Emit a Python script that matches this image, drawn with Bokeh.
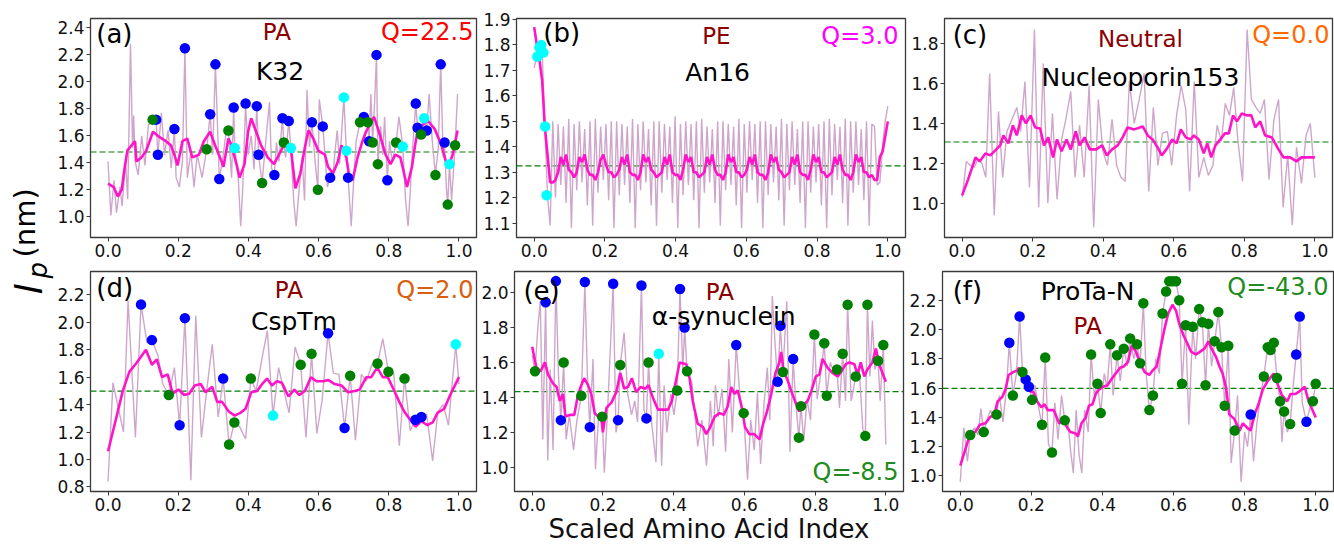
import math
from bokeh.plotting import figure
from bokeh.layouts import row, column
from bokeh.models import Range1d, FixedTicker, NumeralTickFormatter, Span
from bokeh.core.properties import value
from bokeh.embed import file_html
from bokeh.resources import INLINE

FONT = "DejaVu Sans"
RAW_COLOR = "#cfa6cb"
SMOOTH_COLOR = "#ff14c8"
MEAN_COLOR = "#008000"
BLUE, GREEN, CYAN = "#0000ff", "#008000", "#00ffff"

X_TICKS = [0.0, 0.2, 0.4, 0.6, 0.8, 1.0]

# ---------------- (a) K32 ----------------
A_YTICKS = [1.0, 1.2, 1.4, 1.6, 1.8, 2.0, 2.2, 2.4]
A_MEAN = 1.48
A_RAW = [(0.000,1.41),(0.008,1.01),(0.017,1.27),(0.024,1.03),(0.034,1.22),(0.040,1.08),(0.050,1.41),(0.056,1.13),(0.064,2.28),(0.070,1.51),(0.073,1.75),(0.077,1.41),(0.086,1.31),(0.096,1.60),(0.105,1.38),(0.115,1.68),(0.127,1.72),(0.137,1.72),(0.142,1.46),(0.152,1.77),(0.161,1.46),(0.171,1.64),(0.180,1.36),(0.189,1.65),(0.194,1.29),(0.203,1.22),(0.212,1.41),(0.219,2.25),(0.226,1.29),(0.236,1.48),(0.245,1.22),(0.254,1.46),(0.268,1.29),(0.281,1.50),(0.291,1.76),(0.298,1.46),(0.306,2.13),(0.317,1.28),(0.326,1.41),(0.336,1.62),(0.343,1.64),(0.352,1.29),(0.358,1.81),(0.361,1.51),(0.371,1.29),(0.378,0.93),(0.384,1.22),(0.392,1.84),(0.399,1.46),(0.408,1.60),(0.416,1.35),(0.424,1.82),(0.429,1.46),(0.439,1.25),(0.446,1.46),(0.460,1.85),(0.466,1.36),(0.474,1.31),(0.480,1.55),(0.487,1.41),(0.497,1.73),(0.501,1.55),(0.506,1.44),(0.515,1.71),(0.521,1.51),(0.529,1.12),(0.536,0.93),(0.544,1.19),(0.553,1.44),(0.560,1.12),(0.567,1.94),(0.574,1.52),(0.581,1.70),(0.590,1.41),(0.598,1.20),(0.602,1.87),(0.612,1.67),(0.618,1.46),(0.625,1.22),(0.633,1.29),(0.640,1.27),(0.646,1.46),(0.653,1.64),(0.660,1.39),(0.672,1.885),(0.679,1.49),(0.684,1.29),(0.693,0.93),(0.700,1.27),(0.707,1.56),(0.718,1.70),(0.729,1.74),(0.740,1.70),(0.744,1.56),(0.749,1.91),(0.754,1.55),(0.760,1.87),(0.765,2.20),(0.769,1.39),(0.777,1.67),(0.783,1.46),(0.788,1.74),(0.796,1.27),(0.802,1.56),(0.810,1.41),(0.821,1.55),(0.829,1.74),(0.840,1.52),(0.848,1.12),(0.855,0.93),(0.862,1.22),(0.868,1.51),(0.877,1.84),(0.882,1.66),(0.892,1.61),(0.901,1.73),(0.908,1.64),(0.915,1.91),(0.924,1.56),(0.933,1.31),(0.941,1.51),(0.948,2.13),(0.955,1.44),(0.959,1.55),(0.964,1.22),(0.968,1.09),(0.973,1.39),(0.979,1.12),(0.989,1.53),(0.996,1.91)]
A_SMOOTH = [(0.000,1.245),(0.016,1.22),(0.028,1.15),(0.039,1.20),(0.046,1.34),(0.055,1.49),(0.067,1.53),(0.077,1.56),(0.081,1.41),(0.095,1.44),(0.109,1.49),(0.128,1.63),(0.147,1.59),(0.165,1.56),(0.179,1.53),(0.189,1.46),(0.198,1.38),(0.212,1.56),(0.226,1.58),(0.240,1.44),(0.259,1.46),(0.273,1.56),(0.291,1.63),(0.305,1.53),(0.319,1.44),(0.329,1.37),(0.343,1.58),(0.352,1.53),(0.366,1.39),(0.375,1.29),(0.389,1.39),(0.399,1.63),(0.408,1.73),(0.422,1.63),(0.436,1.53),(0.455,1.44),(0.473,1.39),(0.487,1.46),(0.501,1.53),(0.520,1.53),(0.534,1.21),(0.548,1.32),(0.562,1.53),(0.571,1.64),(0.585,1.58),(0.599,1.49),(0.618,1.46),(0.627,1.37),(0.641,1.32),(0.655,1.41),(0.665,1.53),(0.679,1.44),(0.688,1.29),(0.697,1.27),(0.711,1.44),(0.725,1.56),(0.735,1.63),(0.749,1.70),(0.758,1.74),(0.772,1.63),(0.791,1.46),(0.805,1.39),(0.819,1.46),(0.833,1.44),(0.842,1.34),(0.852,1.22),(0.866,1.37),(0.875,1.53),(0.884,1.66),(0.912,1.71),(0.931,1.65),(0.950,1.53),(0.968,1.36),(0.982,1.46),(0.996,1.64)]
A_BLUE = [(0.137,1.72),(0.142,1.46),(0.189,1.65),(0.219,2.25),(0.291,1.76),(0.306,2.13),(0.317,1.28),(0.358,1.81),(0.392,1.84),(0.424,1.82),(0.429,1.46),(0.474,1.31),(0.497,1.73),(0.515,1.71),(0.581,1.70),(0.612,1.67),(0.633,1.29),(0.684,1.29),(0.729,1.74),(0.744,1.56),(0.765,2.20),(0.796,1.27),(0.877,1.84),(0.882,1.66),(0.908,1.64),(0.948,2.13),(0.959,1.55)]
A_GREEN = [(0.127,1.72),(0.281,1.50),(0.343,1.64),(0.439,1.25),(0.501,1.55),(0.598,1.20),(0.718,1.70),(0.740,1.70),(0.754,1.55),(0.769,1.39),(0.821,1.55),(0.892,1.61),(0.933,1.31),(0.968,1.09),(0.989,1.53)]
A_CYAN = [(0.361,1.51),(0.521,1.51),(0.672,1.885),(0.679,1.49),(0.840,1.52),(0.901,1.73),(0.973,1.39)]

# ---------------- (b) An16 ----------------
B_YTICKS = [1.1, 1.2, 1.3, 1.4, 1.5, 1.6, 1.7, 1.8, 1.9]
B_MEAN = 1.325
B_RAW_Y = [1.71, 1.76, 1.79, 1.78, 1.48, 1.21,
           1.09, 1.50, 1.20, 1.49, 1.25, 1.48, 1.18, 1.51,
           1.08, 1.49, 1.23, 1.50, 1.26, 1.47, 1.17, 1.50,
           1.09, 1.51, 1.22, 1.48, 1.27, 1.49, 1.19, 1.50,
           1.08, 1.50, 1.21, 1.49, 1.25, 1.48, 1.18, 1.51,
           1.08, 1.49, 1.23, 1.50, 1.26, 1.47, 1.17, 1.50,
           1.09, 1.50, 1.22, 1.49, 1.27, 1.48, 1.18, 1.52,
           1.08, 1.49, 1.21, 1.50, 1.25, 1.49, 1.19, 1.50,
           1.08, 1.51, 1.22, 1.48, 1.26, 1.47, 1.18, 1.50,
           1.09, 1.50, 1.23, 1.49, 1.25, 1.48, 1.17, 1.51,
           1.08, 1.49, 1.22, 1.50, 1.27, 1.49, 1.18, 1.50,
           1.08, 1.50, 1.21, 1.49, 1.26, 1.48, 1.19, 1.51,
           1.09, 1.49, 1.23, 1.50, 1.25, 1.47, 1.18, 1.50,
           1.08, 1.50, 1.22, 1.48, 1.26, 1.49, 1.17, 1.50,
           1.08, 1.51, 1.21, 1.49, 1.27, 1.48, 1.18, 1.51,
           1.09, 1.50, 1.22, 1.50, 1.25, 1.47, 1.19, 1.50,
           1.09, 1.49, 1.48, 1.25, 1.26, 1.40, 1.50, 1.56]
B_SMOOTH_Y = [1.87, 1.80, 1.74, 1.66, 1.48, 1.37,
              1.26, 1.26, 1.27, 1.30, 1.36, 1.33, 1.37, 1.31,
              1.30, 1.28, 1.30, 1.36, 1.34, 1.37, 1.31, 1.29,
              1.29, 1.27, 1.30, 1.35, 1.37, 1.33, 1.30, 1.30,
              1.28, 1.29, 1.31, 1.36, 1.33, 1.37, 1.30, 1.29,
              1.29, 1.27, 1.30, 1.37, 1.34, 1.36, 1.31, 1.30,
              1.28, 1.29, 1.30, 1.36, 1.33, 1.37, 1.30, 1.29,
              1.29, 1.27, 1.31, 1.37, 1.34, 1.36, 1.30, 1.30,
              1.28, 1.29, 1.30, 1.36, 1.33, 1.37, 1.31, 1.29,
              1.29, 1.27, 1.30, 1.37, 1.34, 1.36, 1.30, 1.30,
              1.28, 1.29, 1.31, 1.36, 1.33, 1.37, 1.30, 1.29,
              1.29, 1.27, 1.30, 1.37, 1.34, 1.36, 1.31, 1.30,
              1.28, 1.29, 1.30, 1.36, 1.33, 1.37, 1.30, 1.29,
              1.29, 1.27, 1.31, 1.37, 1.34, 1.36, 1.30, 1.30,
              1.28, 1.29, 1.30, 1.36, 1.33, 1.37, 1.31, 1.29,
              1.29, 1.27, 1.30, 1.37, 1.34, 1.36, 1.30, 1.30,
              1.28, 1.29, 1.27, 1.27, 1.36, 1.38, 1.44, 1.50]
B_IDX = [i / (len(B_RAW_Y) - 1) for i in range(len(B_RAW_Y))]
B_CYAN = [(0.009,1.755),(0.015,1.79),(0.020,1.80),(0.026,1.77),(0.031,1.48),(0.035,1.21)]

# ---------------- (c) Nucleoporin153 ----------------
C_YTICKS = [1.0, 1.2, 1.4, 1.6, 1.8]
C_MEAN = 1.307
C_RAW = [(0.000,1.03),(0.012,1.21),(0.023,1.19),(0.035,1.18),(0.044,1.22),(0.056,1.20),(0.067,1.13),(0.078,1.65),(0.091,0.94),(0.103,1.46),(0.115,1.13),(0.127,1.36),(0.141,1.42),(0.155,1.48),(0.166,1.36),(0.178,1.61),(0.191,1.08),(0.205,1.87),(0.217,0.98),(0.230,1.70),(0.243,1.00),(0.256,1.45),(0.269,1.02),(0.282,1.32),(0.294,1.42),(0.308,1.56),(0.320,1.13),(0.333,1.39),(0.346,1.13),(0.360,1.59),(0.373,0.88),(0.386,1.52),(0.399,1.26),(0.412,1.19),(0.425,1.42),(0.438,1.19),(0.450,1.13),(0.462,1.11),(0.474,1.61),(0.488,1.40),(0.502,1.52),(0.516,1.65),(0.529,1.06),(0.542,1.48),(0.555,1.19),(0.568,1.35),(0.582,1.36),(0.594,1.19),(0.608,1.44),(0.621,1.59),(0.634,1.47),(0.645,1.06),(0.658,1.61),(0.671,1.13),(0.685,1.23),(0.698,1.14),(0.711,1.19),(0.723,1.39),(0.735,1.31),(0.746,1.50),(0.758,1.44),(0.770,1.58),(0.782,1.31),(0.795,1.11),(0.808,1.87),(0.820,1.52),(0.833,1.48),(0.845,1.45),(0.857,1.52),(0.870,1.12),(0.884,1.42),(0.897,1.52),(0.910,0.98),(0.923,1.24),(0.936,0.89),(0.948,1.28),(0.962,1.10),(0.975,1.34),(0.987,1.40),(1.000,1.13)]
C_SMOOTH = [(0.000,1.04),(0.017,1.12),(0.038,1.23),(0.050,1.21),(0.066,1.25),(0.080,1.24),(0.097,1.27),(0.108,1.29),(0.117,1.34),(0.131,1.30),(0.144,1.39),(0.155,1.34),(0.169,1.44),(0.181,1.40),(0.194,1.44),(0.207,1.38),(0.221,1.375),(0.232,1.29),(0.244,1.33),(0.258,1.23),(0.269,1.32),(0.282,1.26),(0.296,1.32),(0.308,1.27),(0.322,1.36),(0.333,1.29),(0.347,1.33),(0.362,1.27),(0.380,1.27),(0.397,1.29),(0.410,1.24),(0.425,1.27),(0.441,1.29),(0.455,1.33),(0.469,1.38),(0.488,1.37),(0.512,1.385),(0.526,1.34),(0.540,1.32),(0.554,1.28),(0.566,1.24),(0.579,1.27),(0.596,1.32),(0.608,1.30),(0.620,1.37),(0.634,1.33),(0.648,1.32),(0.657,1.34),(0.671,1.32),(0.685,1.25),(0.695,1.30),(0.706,1.23),(0.718,1.29),(0.732,1.32),(0.745,1.35),(0.756,1.35),(0.768,1.44),(0.779,1.41),(0.793,1.45),(0.808,1.44),(0.820,1.44),(0.831,1.38),(0.845,1.41),(0.859,1.34),(0.878,1.33),(0.897,1.27),(0.911,1.23),(0.930,1.23),(0.948,1.21),(0.962,1.23),(1.000,1.23)]

# ---------------- (d) CspTm ----------------
D_YTICKS = [0.8, 1.0, 1.2, 1.4, 1.6, 1.8, 2.0, 2.2]
D_MEAN = 1.498
D_RAW = [(0.000,0.84),(0.014,1.56),(0.028,1.39),(0.044,1.20),(0.057,2.16),(0.078,1.16),(0.094,2.13),(0.111,1.85),(0.125,1.87),(0.142,1.76),(0.156,1.55),(0.173,1.47),(0.189,1.67),(0.204,1.25),(0.219,2.03),(0.236,0.85),(0.250,2.05),(0.266,1.16),(0.281,1.50),(0.297,1.84),(0.314,1.31),(0.328,1.59),(0.345,1.11),(0.360,1.27),(0.375,1.24),(0.392,1.15),(0.407,1.59),(0.422,1.50),(0.439,1.74),(0.454,1.94),(0.470,1.32),(0.486,1.67),(0.501,1.50),(0.516,1.34),(0.533,1.82),(0.549,1.69),(0.564,1.16),(0.580,1.77),(0.595,1.19),(0.610,1.43),(0.627,1.92),(0.642,1.63),(0.658,1.62),(0.674,1.23),(0.690,1.61),(0.705,1.14),(0.722,1.62),(0.736,1.57),(0.752,1.69),(0.768,1.70),(0.783,1.88),(0.799,1.64),(0.814,1.63),(0.830,1.10),(0.845,1.59),(0.861,1.21),(0.876,1.29),(0.893,1.31),(0.908,1.33),(0.925,0.99),(0.940,1.35),(0.955,1.40),(0.970,1.25),(0.991,1.84),(1.000,1.55)]
D_SMOOTH = [(0.000,1.06),(0.024,1.31),(0.042,1.50),(0.061,1.64),(0.080,1.70),(0.108,1.80),(0.125,1.69),(0.139,1.73),(0.154,1.60),(0.170,1.62),(0.184,1.48),(0.201,1.51),(0.217,1.47),(0.231,1.48),(0.247,1.54),(0.264,1.55),(0.278,1.49),(0.297,1.53),(0.311,1.42),(0.325,1.42),(0.344,1.35),(0.361,1.32),(0.377,1.34),(0.392,1.37),(0.408,1.49),(0.425,1.50),(0.439,1.55),(0.453,1.59),(0.467,1.54),(0.481,1.57),(0.495,1.56),(0.514,1.46),(0.531,1.51),(0.545,1.47),(0.561,1.50),(0.578,1.60),(0.594,1.57),(0.613,1.57),(0.627,1.58),(0.646,1.55),(0.665,1.54),(0.684,1.49),(0.703,1.50),(0.717,1.51),(0.736,1.60),(0.750,1.60),(0.767,1.67),(0.783,1.60),(0.797,1.60),(0.814,1.51),(0.830,1.42),(0.844,1.35),(0.861,1.29),(0.877,1.24),(0.893,1.28),(0.910,1.25),(0.925,1.27),(0.939,1.34),(0.958,1.37),(0.975,1.47),(1.000,1.60)]
D_BLUE = [(0.094,2.13),(0.125,1.87),(0.204,1.25),(0.219,2.03),(0.328,1.59),(0.627,1.92),(0.674,1.23),(0.876,1.29),(0.893,1.31)]
D_GREEN = [(0.173,1.47),(0.345,1.11),(0.360,1.27),(0.407,1.59),(0.549,1.69),(0.580,1.77),(0.690,1.61),(0.768,1.70),(0.799,1.64),(0.845,1.59)]
D_CYAN = [(0.470,1.32),(0.991,1.84)]

# ---------------- (e) alpha-synuclein ----------------
E_YTICKS = [1.0, 1.2, 1.4, 1.6, 1.8, 2.0]
E_MEAN = 1.433
E_RAW = [(0.000,1.64),(0.008,1.55),(0.016,1.80),(0.023,1.95),(0.030,1.16),(0.038,1.944),(0.044,1.04),(0.051,1.56),(0.059,1.10),(0.067,2.065),(0.074,1.55),(0.081,1.27),(0.089,1.60),(0.096,1.16),(0.105,1.30),(0.117,1.10),(0.126,1.26),(0.139,1.41),(0.149,2.06),(0.156,1.53),(0.163,1.23),(0.172,1.62),(0.179,0.99),(0.188,1.30),(0.198,1.29),(0.204,0.97),(0.214,1.36),(0.229,2.05),(0.237,1.20),(0.243,1.27),(0.249,1.585),(0.260,1.77),(0.270,1.42),(0.281,1.30),(0.290,1.38),(0.298,1.26),(0.309,2.04),(0.316,1.33),(0.323,1.28),(0.329,1.60),(0.338,1.25),(0.350,1.03),(0.358,1.65),(0.366,1.01),(0.373,1.47),(0.381,1.20),(0.392,1.42),(0.401,1.30),(0.410,1.44),(0.418,2.02),(0.426,1.55),(0.431,1.80),(0.438,1.55),(0.452,1.48),(0.468,1.12),(0.480,1.27),(0.493,1.01),(0.504,1.38),(0.512,1.12),(0.518,1.47),(0.526,1.29),(0.537,1.45),(0.547,1.09),(0.556,1.62),(0.566,1.20),(0.577,1.70),(0.589,1.36),(0.598,1.31),(0.609,0.93),(0.618,1.27),(0.628,1.10),(0.637,1.43),(0.646,1.02),(0.655,1.35),(0.665,1.57),(0.672,1.27),(0.679,1.98),(0.688,1.67),(0.694,1.49),(0.702,1.81),(0.709,1.545),(0.720,1.95),(0.729,1.09),(0.738,1.62),(0.745,1.38),(0.754,1.17),(0.760,1.35),(0.768,1.15),(0.777,1.39),(0.787,1.27),(0.798,1.76),(0.806,1.39),(0.818,1.57),(0.826,1.71),(0.833,1.41),(0.843,1.60),(0.854,1.54),(0.862,1.56),(0.869,1.34),(0.878,1.65),(0.886,1.38),(0.892,1.93),(0.902,1.38),(0.915,1.52),(0.925,1.55),(0.935,1.22),(0.942,1.18),(0.948,1.93),(0.955,1.52),(0.962,1.84),(0.969,1.56),(0.978,1.61),(0.984,1.38),(0.993,1.70),(1.000,1.13)]
E_SMOOTH = [(0.000,1.69),(0.012,1.57),(0.024,1.55),(0.036,1.60),(0.045,1.53),(0.059,1.48),(0.069,1.46),(0.078,1.38),(0.087,1.42),(0.094,1.29),(0.106,1.30),(0.119,1.30),(0.128,1.40),(0.137,1.46),(0.147,1.51),(0.158,1.47),(0.167,1.42),(0.177,1.31),(0.186,1.29),(0.196,1.27),(0.200,1.20),(0.210,1.34),(0.224,1.37),(0.238,1.43),(0.249,1.54),(0.260,1.45),(0.271,1.46),(0.282,1.51),(0.294,1.43),(0.307,1.46),(0.320,1.45),(0.329,1.47),(0.341,1.40),(0.356,1.33),(0.370,1.33),(0.384,1.33),(0.395,1.38),(0.407,1.50),(0.417,1.60),(0.436,1.59),(0.445,1.51),(0.454,1.38),(0.468,1.25),(0.483,1.23),(0.492,1.19),(0.501,1.22),(0.516,1.29),(0.530,1.31),(0.542,1.30),(0.553,1.35),(0.563,1.46),(0.572,1.42),(0.581,1.44),(0.591,1.36),(0.602,1.23),(0.614,1.19),(0.628,1.19),(0.643,1.16),(0.652,1.24),(0.664,1.32),(0.675,1.41),(0.688,1.54),(0.699,1.60),(0.704,1.66),(0.711,1.55),(0.722,1.50),(0.732,1.44),(0.743,1.38),(0.755,1.32),(0.768,1.36),(0.779,1.38),(0.790,1.44),(0.802,1.52),(0.812,1.53),(0.821,1.62),(0.835,1.57),(0.849,1.54),(0.864,1.52),(0.878,1.56),(0.887,1.59),(0.897,1.60),(0.911,1.59),(0.920,1.53),(0.929,1.60),(0.939,1.52),(0.948,1.56),(0.962,1.60),(0.972,1.68),(0.981,1.59),(1.000,1.49)]
E_BLUE = [(0.038,1.944),(0.067,2.065),(0.081,1.27),(0.149,2.06),(0.163,1.23),(0.229,2.05),(0.243,1.27),(0.309,2.04),(0.323,1.28),(0.418,2.02),(0.431,1.80),(0.577,1.70),(0.694,1.49),(0.702,1.81),(0.738,1.62)]
E_GREEN = [(0.008,1.55),(0.089,1.60),(0.139,1.41),(0.198,1.29),(0.249,1.585),(0.329,1.60),(0.410,1.44),(0.438,1.55),(0.598,1.31),(0.709,1.545),(0.754,1.17),(0.760,1.35),(0.798,1.76),(0.826,1.71),(0.833,1.41),(0.862,1.56),(0.878,1.65),(0.892,1.93),(0.915,1.52),(0.942,1.18),(0.948,1.93),(0.978,1.61),(0.993,1.70)]
E_CYAN = [(0.358,1.65)]

# ---------------- (f) ProTa-N ----------------
F_YTICKS = [1.0, 1.2, 1.4, 1.6, 1.8, 2.0, 2.2]
F_MEAN = 1.599
F_RAW = [(0.000,0.96),(0.010,1.33),(0.020,1.10),(0.028,1.28),(0.040,1.33),(0.050,1.28),(0.058,1.46),(0.066,1.30),(0.075,1.38),(0.085,1.45),(0.094,1.40),(0.102,1.42),(0.110,1.55),(0.120,1.37),(0.130,1.60),(0.138,1.91),(0.148,1.55),(0.158,1.70),(0.167,2.09),(0.175,1.71),(0.184,1.66),(0.193,1.61),(0.202,1.52),(0.210,1.62),(0.220,1.47),(0.230,1.35),(0.239,1.81),(0.248,1.22),(0.258,1.16),(0.266,1.50),(0.275,1.25),(0.285,1.55),(0.294,1.38),(0.302,1.40),(0.310,1.18),(0.318,1.02),(0.326,1.45),(0.334,1.15),(0.342,1.02),(0.350,1.45),(0.360,1.30),(0.368,1.83),(0.377,1.55),(0.386,1.63),(0.395,1.43),(0.405,1.70),(0.413,1.60),(0.422,1.90),(0.430,1.55),(0.441,1.825),(0.450,1.65),(0.460,1.87),(0.470,1.75),(0.478,1.94),(0.488,1.80),(0.497,1.90),(0.506,1.77),(0.515,2.18),(0.523,1.70),(0.532,1.45),(0.542,1.55),(0.550,1.80),(0.560,1.70),(0.569,2.11),(0.579,2.26),(0.588,2.33),(0.597,2.33),(0.607,2.33),(0.616,2.20),(0.624,1.63),(0.634,2.03),(0.643,1.35),(0.654,2.02),(0.662,1.80),(0.672,2.14),(0.681,2.05),(0.690,1.62),(0.698,2.04),(0.707,1.75),(0.716,1.92),(0.726,2.12),(0.735,1.88),(0.744,1.48),(0.754,1.89),(0.762,1.09),(0.772,1.31),(0.780,1.55),(0.790,0.96),(0.800,1.30),(0.808,1.20),(0.817,1.42),(0.825,1.10),(0.834,1.35),(0.845,1.55),(0.854,1.68),(0.865,1.88),(0.873,1.86),(0.882,1.91),(0.891,1.67),(0.900,1.51),(0.905,1.23),(0.911,1.44),(0.920,1.30),(0.928,1.355),(0.936,1.60),(0.945,1.83),(0.955,2.09),(0.962,1.50),(0.974,1.37),(0.982,1.45),(0.992,1.51),(1.000,1.63)]
F_SMOOTH = [(0.000,1.07),(0.014,1.18),(0.028,1.29),(0.042,1.30),(0.055,1.35),(0.071,1.36),(0.083,1.40),(0.096,1.42),(0.105,1.51),(0.118,1.54),(0.127,1.59),(0.136,1.69),(0.149,1.71),(0.160,1.72),(0.165,1.74),(0.174,1.67),(0.183,1.62),(0.196,1.58),(0.207,1.57),(0.216,1.51),(0.228,1.47),(0.237,1.49),(0.246,1.45),(0.263,1.45),(0.278,1.36),(0.292,1.37),(0.301,1.33),(0.310,1.30),(0.325,1.29),(0.331,1.27),(0.341,1.36),(0.353,1.40),(0.362,1.48),(0.372,1.49),(0.381,1.56),(0.390,1.59),(0.402,1.61),(0.414,1.62),(0.425,1.66),(0.437,1.70),(0.450,1.74),(0.461,1.75),(0.472,1.78),(0.482,1.89),(0.494,1.85),(0.508,1.76),(0.519,1.71),(0.532,1.69),(0.541,1.72),(0.553,1.75),(0.563,1.87),(0.574,2.00),(0.585,2.11),(0.597,2.17),(0.607,2.13),(0.616,2.04),(0.628,1.96),(0.640,1.90),(0.649,1.85),(0.663,1.83),(0.675,1.85),(0.687,1.87),(0.698,1.92),(0.707,1.87),(0.720,1.81),(0.729,1.75),(0.738,1.70),(0.748,1.60),(0.757,1.42),(0.771,1.39),(0.786,1.31),(0.795,1.36),(0.807,1.33),(0.817,1.31),(0.828,1.42),(0.839,1.49),(0.851,1.59),(0.865,1.65),(0.882,1.70),(0.894,1.62),(0.905,1.55),(0.920,1.51),(0.929,1.56),(0.943,1.56),(0.955,1.58),(0.969,1.61),(0.980,1.51),(1.000,1.40)]
F_BLUE = [(0.138,1.91),(0.167,2.09),(0.184,1.66),(0.193,1.61),(0.817,1.42),(0.945,1.83),(0.955,2.09),(0.974,1.37)]
F_GREEN = [(0.028,1.28),(0.066,1.30),(0.102,1.42),(0.148,1.55),(0.175,1.71),(0.202,1.52),(0.230,1.35),(0.239,1.81),(0.258,1.16),(0.294,1.38),(0.368,1.83),(0.386,1.63),(0.395,1.43),(0.422,1.90),(0.441,1.825),(0.460,1.87),(0.478,1.94),(0.497,1.90),(0.506,1.77),(0.515,2.18),(0.532,1.45),(0.542,1.55),(0.569,2.11),(0.579,2.26),(0.588,2.33),(0.597,2.33),(0.607,2.33),(0.616,2.20),(0.624,1.63),(0.634,2.03),(0.654,2.02),(0.672,2.14),(0.681,2.05),(0.690,1.62),(0.698,2.04),(0.716,1.92),(0.726,2.12),(0.735,1.88),(0.744,1.48),(0.754,1.89),(0.772,1.31),(0.854,1.68),(0.865,1.88),(0.873,1.86),(0.882,1.91),(0.891,1.67),(0.900,1.51),(0.911,1.44),(0.928,1.355),(0.992,1.51),(1.000,1.63)]

XR = (-0.05, 1.05)


def xs(pairs):
    return [p[0] for p in pairs]


def ys(pairs):
    return [p[1] for p in pairs]


def build(size, borders, yr, yticks, raw_x, raw_y, sm_x, sm_y, mean,
          dots, texts, xlabel=None):
    W, H = size
    lb, rb, tb, bb = borders
    p = figure(width=W, height=H, x_range=Range1d(*XR), y_range=Range1d(*yr),
               output_backend="svg", toolbar_location=None,
               min_border_left=lb, min_border_right=rb,
               min_border_top=tb, min_border_bottom=bb)
    p.xgrid.visible = False
    p.ygrid.visible = False
    p.outline_line_color = "#3a3a3a"
    p.outline_line_width = 1.3
    p.xaxis.ticker = FixedTicker(ticks=X_TICKS)
    p.yaxis.ticker = FixedTicker(ticks=yticks)
    p.xaxis.formatter = NumeralTickFormatter(format="0.0")
    p.yaxis.formatter = NumeralTickFormatter(format="0.0")
    for ax in (p.xaxis[0], p.yaxis[0]):
        ax.axis_line_color = None
        ax.major_tick_line_color = "#3a3a3a"
        ax.major_tick_out = 4
        ax.major_tick_in = 0
        ax.minor_tick_line_color = None
        ax.major_label_text_font = FONT
        ax.major_label_text_font_size = "17px"
        ax.major_label_text_color = "#111111"
        ax.major_label_standoff = 2
    if xlabel:
        p.xaxis.axis_label = xlabel
        p.xaxis.axis_label_text_font = FONT
        p.xaxis.axis_label_text_font_size = "26px"
        p.xaxis.axis_label_text_font_style = "normal"
        p.xaxis.axis_label_text_color = "#111111"
        p.xaxis.axis_label_standoff = 0
    p.add_layout(Span(location=mean, dimension="width", line_color=MEAN_COLOR,
                      line_dash="6 3", line_width=1.2, level="underlay"))
    p.line(raw_x, raw_y, line_color=RAW_COLOR, line_width=1.4)
    p.line(sm_x, sm_y, line_color=SMOOTH_COLOR, line_width=2.6)
    for color, pts in dots:
        p.scatter(xs(pts), ys(pts), size=10.5, fill_color=color, line_color=None)
    x0, x1 = XR
    y0, y1 = yr
    for txt, fx, fy, fs, col, align in texts:
        p.text(x=[x0 + fx * (x1 - x0)], y=[y1 - fy * (y1 - y0)], text=[txt],
               text_font=value(FONT), text_font_size=fs, text_color=col,
               text_align=align, text_baseline="middle")
    return p


DARKRED = "#8b0000"

pa = build((424, 265), (33, 2, 17, 23), (0.846, 2.47), A_YTICKS,
           xs(A_RAW), ys(A_RAW), xs(A_SMOOTH), ys(A_SMOOTH), A_MEAN,
           [(BLUE, A_BLUE), (GREEN, A_GREEN), (CYAN, A_CYAN)],
           [("(a)", 0.015, 0.071, "26px", "black", "left"),
            ("PA", 0.483, 0.062, "23px", DARKRED, "center"),
            ("Q=22.5", 0.992, 0.062, "24px", "#ff0000", "right"),
            ("K32", 0.491, 0.24, "25px", "black", "center")])

pb = build((430, 265), (38, 3, 18, 28), (1.044, 1.904), B_YTICKS,
           B_IDX, B_RAW_Y, B_IDX, B_SMOOTH_Y, B_MEAN,
           [(CYAN, B_CYAN)],
           [("(b)", 0.069, 0.068, "26px", "black", "left"),
            ("PE", 0.514, 0.078, "23px", DARKRED, "center"),
            ("Q=3.0", 0.982, 0.078, "24px", "#ff00ff", "right"),
            ("An16", 0.517, 0.247, "25px", "black", "center")])

pc = build((426, 265), (36, 2, 16, 23), (0.829, 1.925), C_YTICKS,
           xs(C_RAW), ys(C_RAW), xs(C_SMOOTH), ys(C_SMOOTH), C_MEAN,
           [],
           [("(c)", 0.021, 0.075, "26px", "black", "left"),
            ("Neutral", 0.505, 0.093, "23px", DARKRED, "center"),
            ("Q=0.0", 0.992, 0.075, "24px", "#ff6a00", "right"),
            ("Nucleoporin153", 0.505, 0.27, "25px", "black", "center")])

pd_ = build((424, 281), (33, 2, 6, 49), (0.767, 2.37), D_YTICKS,
            xs(D_RAW), ys(D_RAW), xs(D_SMOOTH), ys(D_SMOOTH), D_MEAN,
            [(BLUE, D_BLUE), (GREEN, D_GREEN), (CYAN, D_CYAN)],
            [("(d)", 0.015, 0.075, "26px", "black", "left"),
             ("PA", 0.514, 0.084, "23px", DARKRED, "center"),
             ("Q=2.0", 0.992, 0.084, "24px", "#d9600f", "right"),
             ("CspTm", 0.527, 0.226, "25px", "black", "center")])

pe = build((428, 281), (35, 3, 2, 53), (0.862, 2.12), E_YTICKS,
           xs(E_RAW), ys(E_RAW), xs(E_SMOOTH), ys(E_SMOOTH), E_MEAN,
           [(BLUE, E_BLUE), (GREEN, E_GREEN), (CYAN, E_CYAN)],
           [("(e)", 0.023, 0.088, "26px", "black", "left"),
            ("PA", 0.528, 0.093, "23px", DARKRED, "center"),
            ("\u03b1-synuclein", 0.538, 0.204, "25px", "black", "center"),
            ("Q=-8.5", 0.987, 0.912, "24px", "#228b22", "right")],
           xlabel="Scaled Amino Acid Index")

pf = build((428, 281), (36, 1, 2, 53), (0.894, 2.397), F_YTICKS,
           xs(F_RAW), ys(F_RAW), xs(F_SMOOTH), ys(F_SMOOTH), F_MEAN,
           [(BLUE, F_BLUE), (GREEN, F_GREEN)],
           [("(f)", 0.026, 0.088, "26px", "black", "left"),
            ("ProTa-N", 0.371, 0.093, "25px", "black", "center"),
            ("PA", 0.371, 0.248, "23px", DARKRED, "center"),
            ("Q=-43.0", 0.987, 0.071, "24px", "#228b22", "right")])

# shared y label (rotated, reads bottom to top)
LW, LH = 54, 546
lab = figure(width=LW, height=LH, x_range=Range1d(0, LW), y_range=Range1d(0, LH),
             output_backend="svg", toolbar_location=None,
             x_axis_type=None, y_axis_type=None, min_border=0)
lab.grid.visible = False
lab.outline_line_color = None
lab.text(x=[28], y=[LH - 294], text=["l"], angle=math.pi / 2,
         text_font=value(FONT), text_font_style="italic", text_font_size="38px",
         text_align="left", text_baseline="middle", text_color="black")
lab.text(x=[37], y=[LH - 278], text=["p"], angle=math.pi / 2,
         text_font=value(FONT), text_font_style="italic", text_font_size="26px",
         text_align="left", text_baseline="middle", text_color="black")
lab.text(x=[24], y=[LH - 257], text=["(nm)"], angle=math.pi / 2,
         text_font=value(FONT), text_font_size="29px",
         text_align="left", text_baseline="middle", text_color="black")

layout = row(lab, column(row(pa, pb, pc), row(pd_, pe, pf)))

open("out.html", "w").write(file_html(layout, INLINE))
